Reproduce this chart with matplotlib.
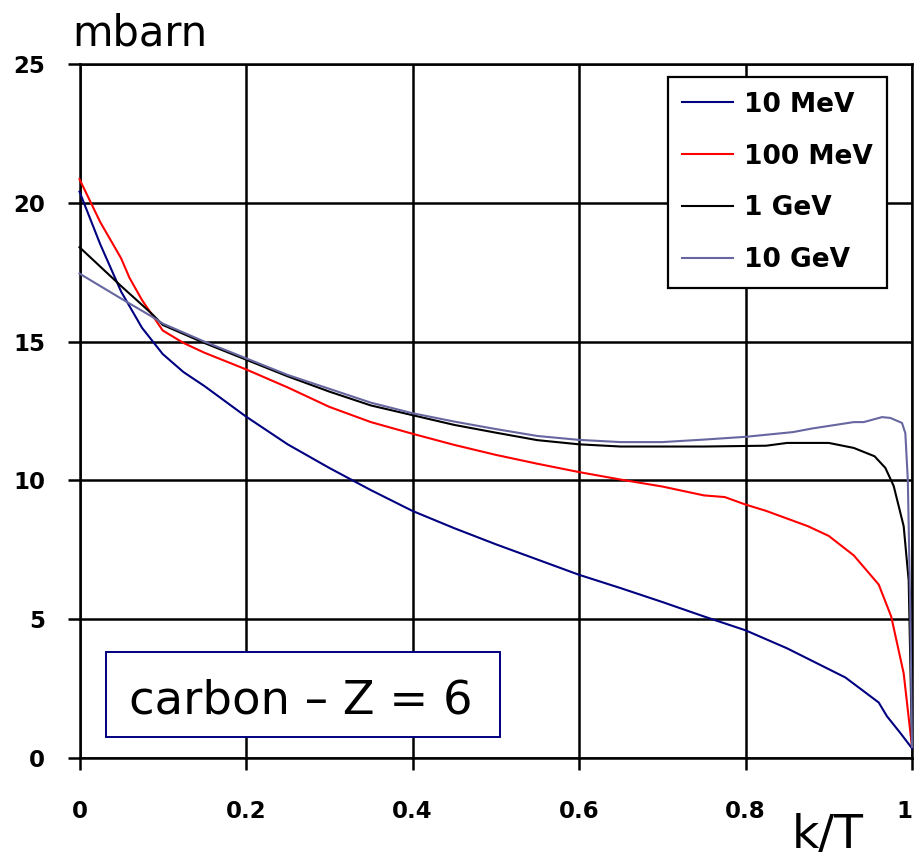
import matplotlib
matplotlib.use("Agg")
import matplotlib.pyplot as plt
from matplotlib.patches import Rectangle

# ---- data ----
x_10mev = [0, 0.025, 0.05, 0.075, 0.1, 0.125, 0.15, 0.2, 0.25, 0.3, 0.35, 0.4, 0.45, 0.5,
           0.55, 0.6, 0.65, 0.7, 0.75, 0.8, 0.85, 0.9, 0.92, 0.96, 0.97, 0.986, 1.0]
y_10mev = [20.4, 18.5, 16.8, 15.5, 14.55, 13.9, 13.4, 12.3, 11.3, 10.45, 9.65, 8.9, 8.28, 7.7,
           7.15, 6.6, 6.12, 5.62, 5.1, 4.6, 3.95, 3.2, 2.9, 2.0, 1.5, 0.9, 0.35]

x_100mev = [0, 0.025, 0.05, 0.06, 0.075, 0.1, 0.125, 0.15, 0.2, 0.25, 0.3, 0.35, 0.4, 0.45,
            0.5, 0.55, 0.6, 0.65, 0.7, 0.75, 0.775, 0.8, 0.825, 0.875, 0.9, 0.93, 0.96,
            0.975, 0.99, 1.0]
y_100mev = [20.85, 19.3, 18.0, 17.3, 16.5, 15.4, 14.95, 14.6, 14.0, 13.35, 12.65, 12.1, 11.68,
            11.28, 10.92, 10.6, 10.3, 10.03, 9.78, 9.46, 9.4, 9.13, 8.9, 8.35, 8.0, 7.3, 6.25,
            5.1, 3.05, 0.4]

x_1gev = [0, 0.05, 0.087, 0.1, 0.15, 0.2, 0.25, 0.3, 0.35, 0.4, 0.45, 0.5, 0.55, 0.6, 0.65,
          0.7, 0.75, 0.825, 0.85, 0.9, 0.93, 0.955, 0.968, 0.978, 0.99, 0.996, 1.0]
y_1gev = [18.4, 17.0, 16.0, 15.6, 14.95, 14.35, 13.75, 13.2, 12.7, 12.35, 12.0, 11.72, 11.45,
          11.3, 11.22, 11.22, 11.22, 11.25, 11.35, 11.35, 11.17, 10.87, 10.45, 9.8, 8.35,
          6.4, 0.4]

x_10gev = [0, 0.05, 0.087, 0.1, 0.15, 0.2, 0.25, 0.3, 0.35, 0.4, 0.45, 0.5, 0.55, 0.6, 0.65,
           0.7, 0.75, 0.8, 0.857, 0.88, 0.93, 0.942, 0.964, 0.974, 0.988, 0.992, 0.995,
           0.998, 1.0]
y_10gev = [17.45, 16.55, 15.9, 15.65, 15.0, 14.4, 13.8, 13.3, 12.8, 12.42, 12.12, 11.85, 11.6,
           11.46, 11.38, 11.38, 11.47, 11.57, 11.74, 11.87, 12.1, 12.1, 12.28, 12.25, 12.07,
           11.7, 10.0, 5.2, 0.4]

labels = ["10 MeV", "100 MeV", "1 GeV", "10 GeV"]
colors = ["#000080", "#FF0000", "#000000", "#6666A0"]
x_ticks = [0, 0.2, 0.4, 0.6, 0.8, 1]
x_ticklabels = ["0", "0.2", "0.4", "0.6", "0.8", "1"]
y_ticks = [0, 5, 10, 15, 20, 25]

# ---- figure ----
fig = plt.figure(figsize=(9.14, 8.6), dpi=100)
ax = fig.add_axes([79.5 / 914, (860 - 758) / 860, 832.5 / 914, 694 / 860])

series = [(x_10mev, y_10mev), (x_100mev, y_100mev), (x_1gev, y_1gev), (x_10gev, y_10gev)]
for (xs, ys), lab, col in zip(series, labels, colors):
    ax.plot(xs, ys, color=col, lw=1.5, label=lab, zorder=3, clip_on=False)

ax.set_xlim(0, 1)
ax.set_ylim(0, 25)
ax.set_xticks(x_ticks)
ax.set_xticklabels(x_ticklabels)
ax.set_yticks(y_ticks)
ax.grid(True, color="black", lw=1.8, zorder=1)
ax.set_axisbelow(True)
for sp in ax.spines.values():
    sp.set_color("black")
    sp.set_linewidth(1.8)
ax.tick_params(axis="both", direction="out", length=8.6, width=1.8, color="black",
               labelsize=16.5)
ax.tick_params(axis="y", pad=16)
ax.tick_params(axis="x", pad=22)
for t in ax.get_xticklabels() + ax.get_yticklabels():
    t.set_fontweight("bold")
ax.get_xticklabels()[-1].set_horizontalalignment("right")

leg = ax.legend(loc="upper right", bbox_to_anchor=(0.97, 0.981), borderaxespad=0,
                prop={"size": 19, "weight": "bold"}, frameon=True, fancybox=False,
                handlelength=1.93, handletextpad=0.4, labelspacing=0.98,
                borderpad=0.55, framealpha=1)
leg.get_frame().set_edgecolor("black")
leg.get_frame().set_linewidth(1.6)
leg.set_zorder(5)

# annotation box
ax.add_patch(Rectangle((0.0315, 0.0298), 0.4735, 0.1232, transform=ax.transAxes,
                       facecolor="white", edgecolor="#000080", lw=1.4, zorder=4))
ax.text(0.266, 0.0648, "carbon – Z = 6", transform=ax.transAxes, ha="center",
        va="baseline", fontsize=33.5, zorder=6)

fig.text(72 / 914, (860 - 45) / 860, "mbarn", fontsize=30, ha="left", va="baseline")
fig.text(792 / 914, 1.5 / 860, "k/T", fontsize=34, ha="left", va="bottom")

fig.savefig("out.png", dpi=100)
